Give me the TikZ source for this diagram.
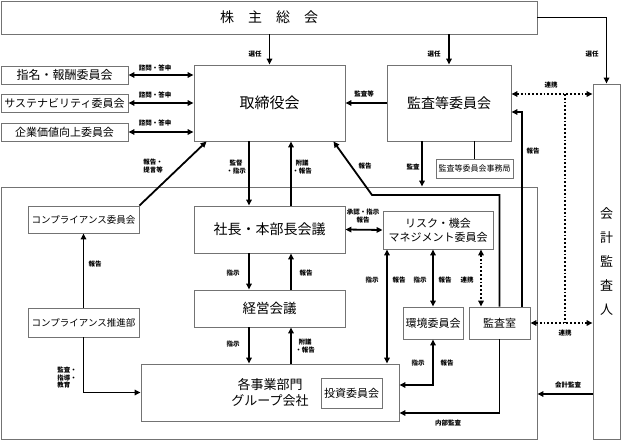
\documentclass[tikz,border=0pt]{standalone}
\usepackage{fontspec}
\setmainfont{Noto Sans CJK JP}
\usetikzlibrary{arrows.meta}

\begin{document}
\begin{tikzpicture}[x=1pt,y=-1pt,
  box/.style={draw=black!55,line width=0.9pt,fill=white,inner sep=0pt},
  frame/.style={draw=black!55,line width=0.9pt,inner sep=0pt},
  arr/.style={line width=1.8pt,-{Triangle[length=6pt,width=5.5pt]}},
  darr/.style={line width=1.8pt,{Triangle[length=6pt,width=5.5pt]}-{Triangle[length=6pt,width=5.5pt]}},
  dotarr/.style={line width=1.8pt,dotted,{Triangle[length=6pt,width=5.5pt]}-{Triangle[length=6pt,width=5.5pt]}},
  dotline/.style={line width=1.8pt,dotted},
  plain/.style={line width=1.8pt},
  lbl/.style={font=\fontsize{6.5}{7.5}\selectfont\bfseries,inner sep=0pt,align=center},
  fs/.style={font=\fontsize{#1}{#1}\selectfont}]
\useasboundingbox (0,0) rectangle (621,441);

% group frame
\node[frame,minimum width=536pt,minimum height=252pt] (group) at (269,313) {};

% boxes
\node[box,fs=14,minimum width=536pt,minimum height=33pt] (soukai) at (269,17.5) {株　主　総　会};
\node[box,fs=15,minimum width=151pt,minimum height=76pt] (tori) at (269.5,103) {取締役会};
\node[box,fs=14,minimum width=124pt,minimum height=76pt] (kansa) at (449,103) {監査等委員会};
\node[box,font=\fontsize{13}{24}\selectfont,align=center,minimum width=27pt,minimum height=355pt] (kaikei) at (606.5,261.5) {会\\計\\監\\査\\人};

\node[box,fs=12,minimum width=127pt,minimum height=18pt] (shimei) at (64.5,75) {指名・報酬委員会};
\node[box,fs=11,minimum width=127pt,minimum height=18pt] (susta) at (64.5,103) {サステナビリティ委員会};
\node[box,fs=11,minimum width=127pt,minimum height=18pt] (kigyo) at (64.5,132) {企業価値向上委員会};
\node[box,fs=8,minimum width=77pt,minimum height=19pt] (jimu) at (474.5,168.5) {監査等委員会事務局};

\node[box,fs=9.5,minimum width=111pt,minimum height=27pt] (comp) at (83.5,219.5) {コンプライアンス委員会};
\node[box,fs=9.5,minimum width=111pt,minimum height=29pt] (promo) at (83.5,322.5) {コンプライアンス推進部};
\node[box,fs=14,minimum width=151pt,minimum height=47pt] (shacho) at (269.5,229.5) {社長・本部長会議};
\node[box,fs=13.5,minimum width=151pt,minimum height=37pt] (keiei) at (269.5,308.5) {経営会議};
\node[box,font=\fontsize{13}{16}\selectfont,align=center,minimum width=258pt,minimum height=57pt] (jigyo) at (270,392.5) {各事業部門\\グループ会社};
\node[box,fs=11,minimum width=61pt,minimum height=30pt] (toshi) at (351.5,393) {投資委員会};
\node[box,font=\fontsize{11}{14}\selectfont,align=center,minimum width=110pt,minimum height=38pt] (risk) at (438,230) {リスク・機会\\マネジメント委員会};
\node[box,fs=11,minimum width=60pt,minimum height=32pt] (kankyo) at (433,323) {環境委員会};
\node[box,fs=11,minimum width=61pt,minimum height=32pt] (kansashitsu) at (499.5,323) {監査室};

% helper coordinates
\coordinate (dn) at (249,0);
\coordinate (up) at (291,0);
\coordinate (kansax) at (422,0);
\coordinate (houkoku) at (522,112);
\coordinate (bend) at (372,195);
\coordinate (ren1) at (565,94);
\coordinate (ren2) at (565,323);
\coordinate (rv) at (387,0);
\coordinate (rd) at (481,0);
\coordinate (kaikeiy) at (0,394);
\coordinate (kky) at (0,385);
\coordinate (nby) at (0,413);

% shareholders
\draw[arr] (tori.north |- soukai.south) -- (tori.north);
\draw[arr] (kansa.north |- soukai.south) -- (kansa.north);
\draw[arr] (soukai.east) -| (kaikei.north);

% committees
\foreach \n in {shimei,susta,kigyo}
  \draw[darr] (\n.east) -- (\n.east -| tori.west);

% audit committee
\draw[arr] (kansa.west) -- (tori.east);
\draw[plain] (jimu.north) -- (jimu.north |- kansa.south);
\draw[arr] (kansa.south -| kansax) -- (group.north -| kansax);
\draw[dotarr] (kansa.east |- ren1) -- (kaikei.west |- ren1);
\draw[dotarr] (kansashitsu.east) -- (kaikei.west |- kansashitsu.east);
\draw[dotline] (ren1) -- (ren2);
\draw[arr] (kansashitsu.north -| houkoku) |- (kansa.east |- houkoku);
\draw[arr] (kansashitsu.north) |- (bend) -- ([xshift=-12pt]tori.south east);
\draw[arr] (kaikei.west |- kaikeiy) -- (group.east |- kaikeiy);

% compliance
\draw[arr] (comp.north east) -- ([xshift=13pt]tori.south west);
\draw[arr] (promo.north) -- (comp.south);
\draw[arr] (promo.south) |- (jigyo.west);

% main chain
\foreach \a/\b in {tori/shacho,shacho/keiei,keiei/jigyo}{
  \draw[arr] (\a.south -| dn) -- (\b.north -| dn);
  \draw[arr] (\b.north -| up) -- (\a.south -| up);}

% risk committee
\draw[darr] (shacho.east) -- (risk.west);
\draw[darr] (risk.south -| rv) -- (jigyo.north -| rv);
\draw[darr] (risk.south -| kankyo.north) -- (kankyo.north);
\draw[dotarr] (risk.south -| rd) -- (kansashitsu.north -| rd);
\draw[darr] (kankyo.south) |- (jigyo.east |- kky);
\draw[arr] (kansashitsu.south) |- (jigyo.east |- nby);

% labels
\node[lbl] (sen1) at (255,54) {選任};
\node[lbl] (sen2) at (434,54) {選任};
\node[lbl] (sen3) at (592,54) {選任};
\node[lbl] (shi1) at (155,68) {諮問・答申};
\node[lbl] (shi2) at (155,95) {諮問・答申};
\node[lbl] (shi3) at (155,123) {諮問・答申};
\node[lbl] (kt) at (364,94) {監査等};
\node[lbl] (ren1l) at (551,85) {連携};
\node[lbl] (ren2l) at (565,333) {連携};
\node[lbl] (hk1) at (533,151) {報告};
\node[lbl] (ks) at (413,167) {監査};
\node[lbl] (hk2) at (365,166) {報告};
\node[lbl] (tg) at (153,166) {報告・\\提言等};
\node[lbl] (ksh) at (236,167) {監督\\・指示};
\node[lbl] (fh1) at (302,167) {附議\\・報告};
\node[lbl] (sh) at (363,216) {承認・指示\\報告};
\node[lbl] (hk3) at (95,264) {報告};
\node[lbl] (sj1) at (233,273) {指示};
\node[lbl] (hk4) at (306,273) {報告};
\node[lbl] (sj2) at (233,344) {指示};
\node[lbl] (fh2) at (305,346) {附議\\・報告};
\node[lbl,align=left] (kse) at (67,378) {監査・\\指導・\\教育};
\node[lbl] (sj3) at (372,280) {指示};
\node[lbl] (hk5) at (399,280) {報告};
\node[lbl] (sj4) at (420,280) {指示};
\node[lbl] (hk6) at (445,280) {報告};
\node[lbl] (ren3l) at (467,280) {連携};
\node[lbl] (sj5) at (418,363) {指示};
\node[lbl] (hk7) at (447,363) {報告};
\node[lbl] (kk) at (568,385) {会計監査};
\node[lbl] (nb) at (448,423) {内部監査};
\end{tikzpicture}
\end{document}
